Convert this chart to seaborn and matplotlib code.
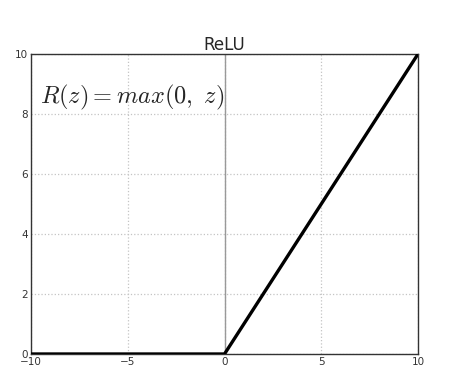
import matplotlib
matplotlib.use("Agg")
import matplotlib.pyplot as plt
import seaborn as sns
import pandas as pd

z_values = [-10, 0, 10]
relu_values = [0, 0, 10]
x_ticks = [-10, -5, 0, 5, 10]
y_ticks = [0, 2, 4, 6, 8, 10]
title = "ReLU"
formula = r"$R(z)=max(0,\ z)$"

sns.set_style("white")
plt.rcParams['font.family'] = ['DejaVu Sans']
plt.rcParams['mathtext.fontset'] = 'cm'

fig = plt.figure(figsize=(4.73, 3.82), dpi=100)
ax = fig.add_axes([31/473, 1-354/382, (418-31)/473, (354-54)/382])

df = pd.DataFrame({"z": z_values, "R": relu_values})
ax.axvline(0, color="#999999", lw=1.0, zorder=1)
sns.lineplot(data=df, x="z", y="R", ax=ax, color="black", lw=2.4, zorder=3)

ax.set_xlim(-10, 10)
ax.set_ylim(0, 10)
ax.set_xticks(x_ticks)
ax.set_yticks(y_ticks)
ax.set_xticklabels([str(t).replace('-', '\u2212') for t in x_ticks])
ax.set_xlabel("")
ax.set_ylabel("")
ax.grid(True, linestyle=":", color="#c4c4c4", lw=0.9)
ax.tick_params(direction="in", length=4, labelsize=7.5, pad=2, colors="#333333")
for s in ax.spines.values():
    s.set_color("#333333")
    s.set_linewidth(1.0)
ax.set_title(title, fontsize=12, pad=3)
ax.text(-9.55, 8.35, formula, fontsize=17.5)

fig.savefig("out.png", dpi=100)
